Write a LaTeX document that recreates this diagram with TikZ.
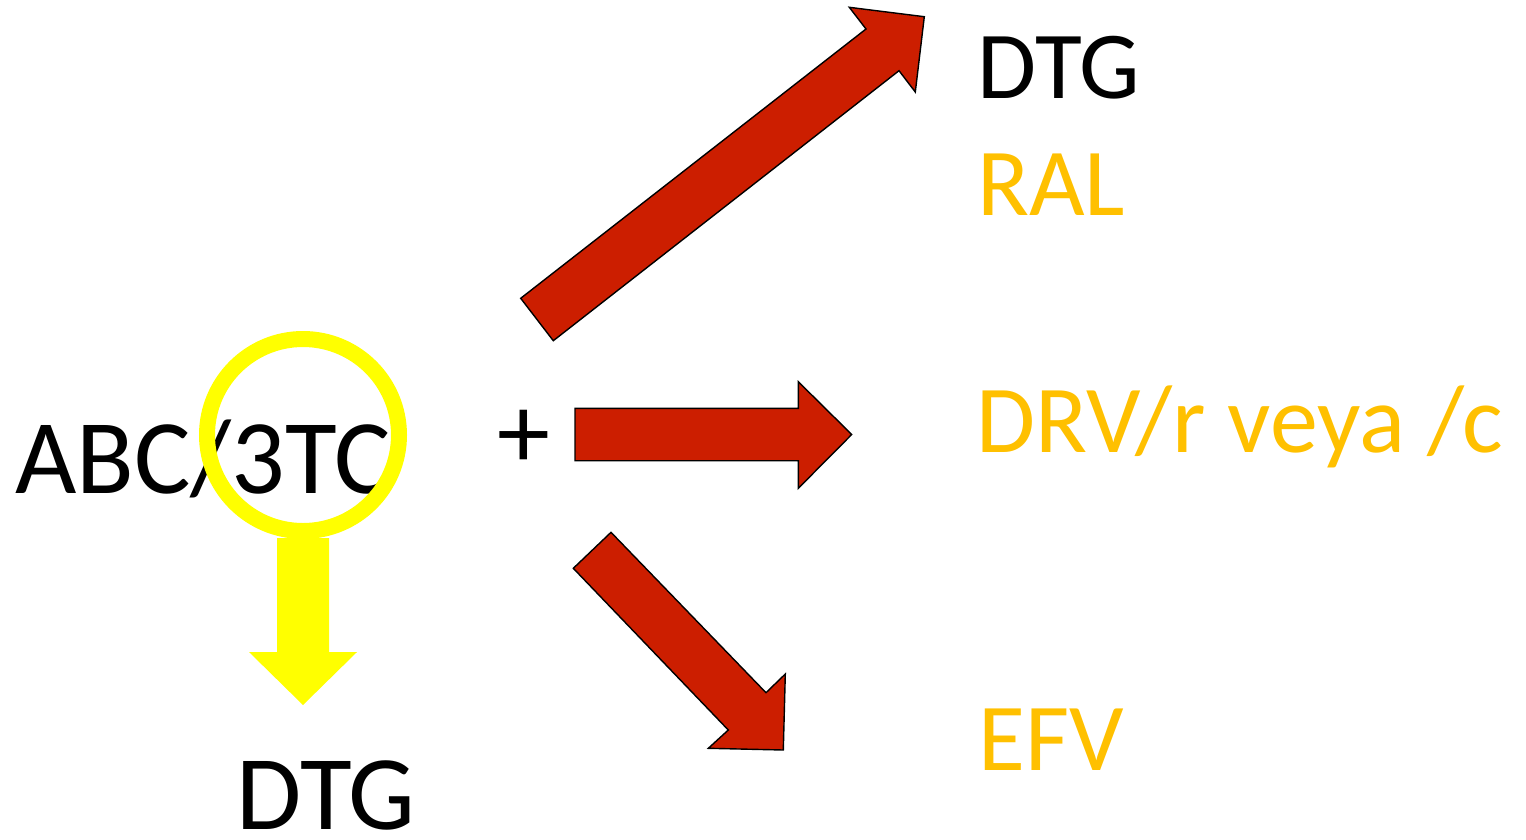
\documentclass[tikz,border=0pt]{standalone}
\usepackage{fontspec}
\setmainfont{Carlito}
\definecolor{arrowred}{RGB}{204,30,0}
\definecolor{gold}{RGB}{255,192,0}
\definecolor{brightyellow}{RGB}{255,255,0}
\tikzset{
  bigtxt/.style={inner sep=0pt, anchor=base west, font=\fontsize{106}{110}\selectfont},
  sidetxt/.style={inner sep=0pt, anchor=base west, font=\fontsize{96}{100}\selectfont},
  redarrow/.style={fill=arrowred, draw=black, line width=1.4pt, line join=miter},
  yellowarrow/.style={fill=brightyellow, draw=none},
  ring/.style={draw=brightyellow, line width=16pt}
}
\begin{document}
\begin{tikzpicture}[x=1pt, y=-1pt]
\useasboundingbox (0,0) rectangle (1526,839);
% texts
\node[bigtxt] (abc) at (15,493) {ABC/3TC};
\node[bigtxt, anchor=center] (plus) at (524,439) {+};
\node[bigtxt] (dtgb) at (236,829) {DTG};
\node[sidetxt] (dtgt) at (977,98) {DTG};
\node[sidetxt, text=gold] (ral) at (977,215) {RAL};
\node[sidetxt, text=gold] (drv) at (976,452) {DRV/r veya /c};
\node[sidetxt, text=gold] (efv) at (978,770) {EFV};
% yellow ring
\draw[ring] (303,435) circle[radius=96];
% yellow arrow down
\fill[yellowarrow] (277,538) -- (329,538) -- (329,652) -- (357,652) -- (303,705)
  -- (249,652) -- (277,652) -- cycle;
% red arrow up-right
\draw[redarrow] (520.7,298.3) -- (866,29) -- (849.3,7.3) -- (924.3,16.7)
  -- (915.3,92) -- (899,70.7) -- (553.3,340.7) -- cycle;
% red arrow right
\draw[redarrow] (575,408.3) -- (798.3,408.3) -- (798.3,381.7) -- (851.7,434.5)
  -- (798.3,488.3) -- (798.3,460.7) -- (575,460.7) -- cycle;
% red arrow down-right
\draw[redarrow] (611,532.3) -- (766,692.7) -- (785.3,674) -- (783.3,750)
  -- (708.3,748.3) -- (728.3,730) -- (573.3,568.3) -- cycle;
\end{tikzpicture}
\end{document}
